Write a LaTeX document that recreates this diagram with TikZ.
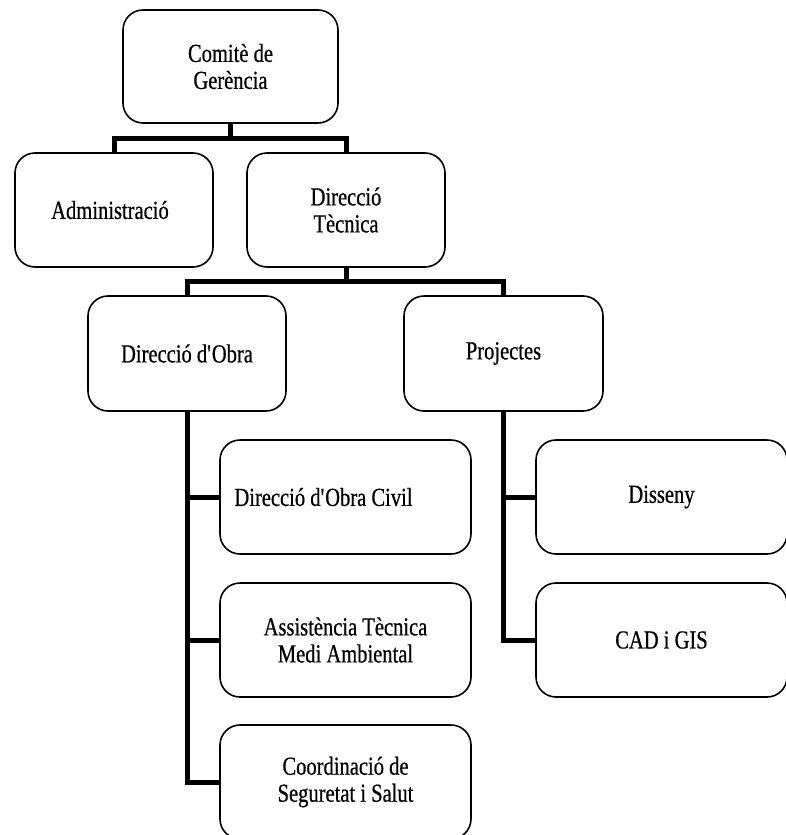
\documentclass[tikz,border=0pt]{standalone}
\usepackage{fontspec}
\setmainfont{Liberation Serif}[FakeStretch=0.79,FakeBold=0.6]
\usepackage{tikz}
\usetikzlibrary{calc,positioning}
\tikzstyle{unit}=[draw,line width=1.6pt,rounded corners=20pt,fill=white,align=center,inner sep=0pt,font=\fontsize{26}{27}\selectfont]
\tikzstyle{wideunit}=[unit,minimum width=251pt,minimum height=114pt]
\tikzstyle{link}=[line width=5pt,line join=miter]

\begin{document}
\begin{tikzpicture}[x=1pt,y=-1pt]
\useasboundingbox (0,0) rectangle (786,835);
\node [unit,minimum width=215pt,minimum height=113pt] (comite) at (230.5,66.5) {Comitè de\\Gerència};
\node [unit,minimum width=198pt,minimum height=114pt] (admin) at (114,210) {Administració\hspace*{8pt}};
\node [unit,minimum width=198pt,minimum height=114pt] (dirtec) at (346,210) {Direcció\\Tècnica};
\node [unit,minimum width=198pt,minimum height=115pt] (dirobra) at (187,353.5) {Direcció d\textquotesingle Obra};
\node [unit,minimum width=199pt,minimum height=115pt] (projectes) at (503.5,353.5) {Projectes};
% fills de Direccio d'Obra
\node [wideunit] (civil) at (345.5,497) {Direcció d\textquotesingle Obra Civil\hspace*{44pt}};
\node [wideunit] (assist) at (345.5,640) {Assistència Tècnica\\Medi Ambiental};
\node [wideunit] (coord) at (345.5,782) {Coordinació de\\Seguretat i Salut};
% fills de Projectes
\node [wideunit] (disseny) at (661.5,497) {Disseny};
\node [wideunit] (cad) at (661.5,640) {CAD i GIS};

\draw [link] (comite.south) -- ($(comite.south)!0.5!(comite.south |- admin.north)$) coordinate (b1) -| (admin.north);
\draw [link] (b1) -| (dirtec.north);
\draw [link] (dirtec.south) -- ($(dirtec.south)!0.5!(dirtec.south |- dirobra.north)$) coordinate (b2) -| (dirobra.north);
\draw [link] (b2) -| (projectes.north);
\draw [link] (dirobra.south) |- (coord.west);
\draw [link] (dirobra.south |- civil.west) -- (civil.west);
\draw [link] (dirobra.south |- assist.west) -- (assist.west);
\draw [link] (projectes.south) |- (cad.west);
\draw [link] (projectes.south |- disseny.west) -- (disseny.west);
\end{tikzpicture}
\end{document}
